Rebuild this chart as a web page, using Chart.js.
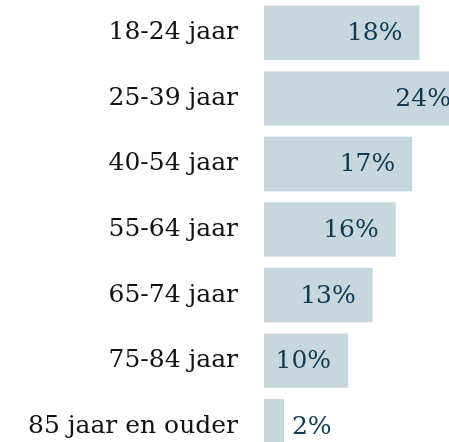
<!DOCTYPE html>
<html>
<head>
<meta charset="utf-8">
<script src="https://cdn.jsdelivr.net/npm/chart.js@4/dist/chart.umd.min.js"></script>
<style>
  html,body{margin:0;padding:0;background:#fff;overflow:hidden;}
  #wrap{position:relative;width:490px;height:459px;}
</style>
</head>
<body>
<div id="wrap"><canvas id="ageChart"></canvas></div>
<script>
// leeftijdsgroepen en aandeel (%)
const categories = ["18-24 jaar","25-39 jaar","40-54 jaar","55-64 jaar","65-74 jaar","75-84 jaar","85 jaar en ouder"];
const shares = [18.3, 24, 17.45, 15.5, 12.8, 9.9, 2.35];

const BAR = "#c8d6dd";
const VALUE_COLOR = "#0d3b53";
const FONT = "'DejaVu Serif', Georgia, serif";

// value labels: inside the bar at the end, outside for short bars
const valueLabels = {
  id: "valueLabels",
  afterDatasetsDraw(chart) {
    const ctx = chart.ctx;
    const meta = chart.getDatasetMeta(0);
    ctx.save();
    ctx.font = "25px " + FONT;
    ctx.fillStyle = VALUE_COLOR;
    ctx.textBaseline = "middle";
    meta.data.forEach((bar, i) => {
      const txt = Math.round(shares[i]) + "%";
      const w = bar.x - bar.base;
      if (w > 70) { ctx.textAlign = "right"; ctx.fillText(txt, bar.x - 17, bar.y + 1); }
      else { ctx.textAlign = "left"; ctx.fillText(txt, bar.x + 8, bar.y + 1); }
    });
    ctx.restore();
  }
};

new Chart(document.getElementById("ageChart"), {
  type: "bar",
  data: {
    labels: categories,
    datasets: [{ data: shares, backgroundColor: BAR, borderWidth: 0, barPercentage: 0.83, categoryPercentage: 1 }]
  },
  options: {
    indexAxis: "y",
    responsive: true, maintainAspectRatio: false, animation: false,
    layout: { padding: 0, autoPadding: false },
    plugins: { legend: { display: false }, tooltip: { enabled: false } },
    scales: {
      x: { display: false, min: 0, max: 26.6 },
      y: {
        grid: { display: false, drawTicks: false },
        border: { display: false },
        ticks: { color: "#111", padding: 26, font: { family: FONT, size: 25 } },
        afterFit: s => { s.width = 264; s.paddingTop = 0; s.paddingBottom = 0; }
      }
    }
  },
  plugins: [valueLabels]
});
</script>
</body>
</html>
